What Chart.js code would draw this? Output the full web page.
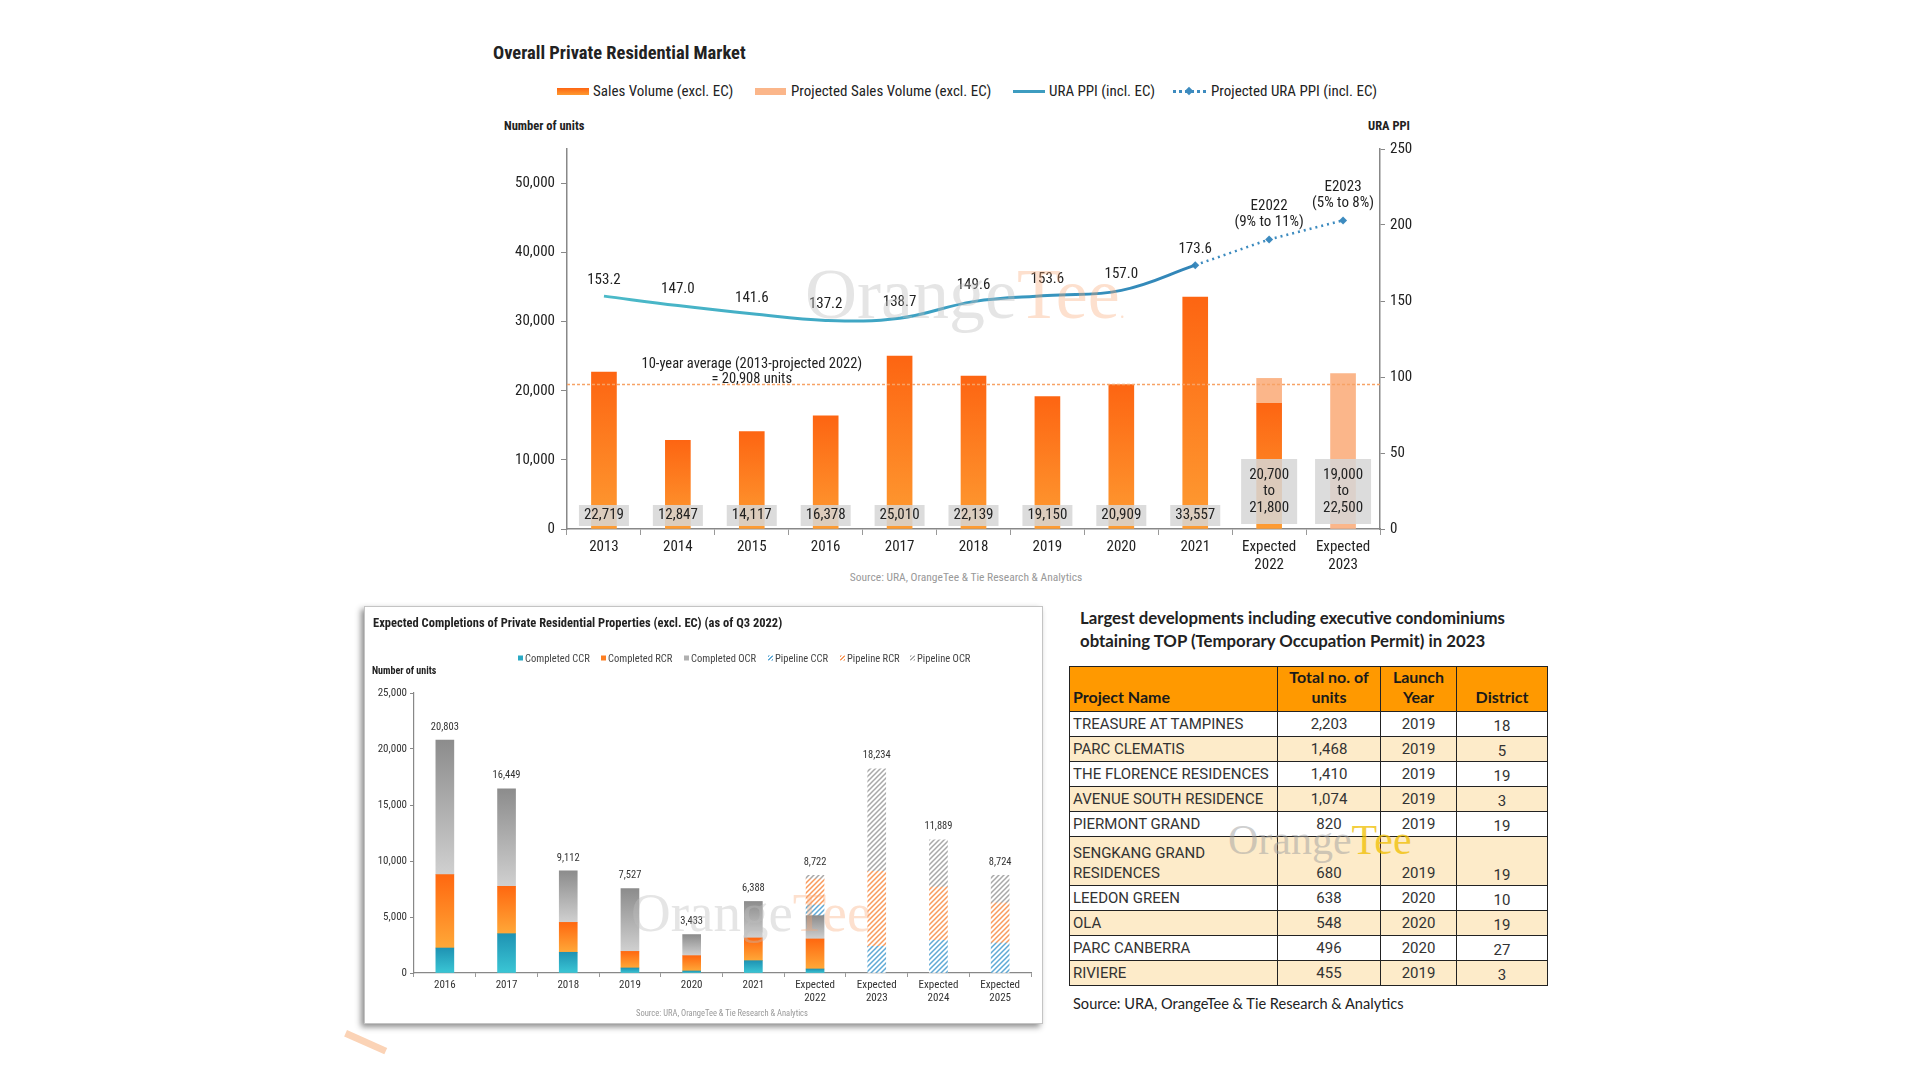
<!DOCTYPE html>
<html>
<head>
<meta charset="utf-8">
<script src="https://cdn.jsdelivr.net/npm/chart.js@4.4.1/dist/chart.umd.min.js"></script>
<style>
  body { margin: 0; width: 1920px; height: 1080px; background: #fff; position: relative; overflow: hidden;
         font-family: 'Liberation Sans Narrow', 'Roboto Condensed', Roboto, sans-serif; color: #222; }
  .abs { position: absolute; white-space: nowrap; }
  .mid { transform: translateY(-50%); }
  .legend-text { font-size: 15px; color: #222; }
  .small-legend { font-size: 10.5px; color: #444; }
  .small-legend i { display: inline-block; width: 5px; height: 5px; margin-right: 2px; vertical-align: 1px; }
  .wm { font-family: 'Liberation Serif', 'DejaVu Serif', serif; line-height: 1; pointer-events: none; z-index: 5; }
  #panel { position: absolute; left: 364px; top: 606px; width: 677px; height: 416px; background: #fff;
           border: 1px solid #c4c4c4; box-shadow: -3px 3px 6px rgba(0,0,0,0.45); }
  canvas { position: absolute; }
  table { position: absolute; left: 1069px; top: 666px; border-collapse: collapse; table-layout: fixed;
          font-family: Roboto, sans-serif; font-size: 15px; color: #333; }
  th, td { border: 1.5px solid #222; padding: 0 3px; overflow: hidden; }
  th { background: #ff9900; font-family: Lato, sans-serif; font-weight: bold; font-size: 16px; color: #1a1a1a;
       vertical-align: bottom; line-height: 20px; padding-bottom: 4px; height: 40px; }
  td { vertical-align: bottom; line-height: 20px; padding-bottom: 2px; white-space: pre-line; }
  tr.alt td { background: #fdebc9; }
  td.c { text-align: center; }
</style>
</head>
<body>

<!-- top chart texts -->
<div class="abs mid" style="left:493px;top:53px;font-size:18.5px;font-weight:bold;">Overall Private Residential Market</div>

<div class="abs" style="left:557px;top:88px;width:32px;height:7px;background:linear-gradient(#fd6512,#fe9a30);"></div>
<div class="abs mid legend-text" style="left:593px;top:91px;">Sales Volume (excl. EC)</div>
<div class="abs" style="left:755px;top:88px;width:31px;height:7px;background:#fbb68a;"></div>
<div class="abs mid legend-text" style="left:791px;top:91px;">Projected Sales Volume (excl. EC)</div>
<div class="abs" style="left:1013px;top:90px;width:32px;height:3px;background:#3d9cc0;"></div>
<div class="abs mid legend-text" style="left:1049px;top:91px;">URA PPI (incl. EC)</div>
<div class="abs" style="left:1173px;top:90px;width:33px;height:0;border-top:3px dotted #3d8bbf;"></div>
<div class="abs" style="left:1186px;top:88px;width:6px;height:6px;background:#3d8bbf;transform:rotate(45deg);"></div>
<div class="abs mid legend-text" style="left:1211px;top:91px;">Projected URA PPI (incl. EC)</div>

<div class="abs mid" style="left:504px;top:125px;font-size:12.5px;font-weight:bold;">Number of units</div>
<div class="abs mid" style="left:1368px;top:125px;font-size:12.5px;font-weight:bold;">URA PPI</div>
<div class="abs mid" style="left:836px;top:577px;width:260px;text-align:center;font-size:11.5px;color:#999;">Source: URA, OrangeTee &amp; Tie Research &amp; Analytics</div>

<canvas id="salesChart" width="1010" height="500" style="left:440px;top:101px;"></canvas>

<div class="abs wm" style="left:805px;top:258px;font-size:72px;"><span style="color:rgba(190,190,190,0.4)">Orange</span><span style="color:rgba(250,165,115,0.35)">Tee</span><span style="color:rgba(250,165,115,0.35);font-size:20px;">.</span></div>

<!-- bottom left panel -->
<div id="panel"></div>
<div class="abs mid" style="left:373px;top:622px;font-size:12.5px;font-weight:bold;z-index:2;">Expected Completions of Private Residential Properties (excl. EC) (as of Q3 2022)</div>
<div class="abs mid small-legend" style="left:518px;top:658px;z-index:2;"><i style="background:#2aa9c4"></i>Completed CCR</div>
<div class="abs mid small-legend" style="left:601px;top:658px;z-index:2;"><i style="background:#fd7f22"></i>Completed RCR</div>
<div class="abs mid small-legend" style="left:684px;top:658px;z-index:2;"><i style="background:#b0b0b0"></i>Completed OCR</div>
<div class="abs mid small-legend" style="left:768px;top:658px;z-index:2;"><i style="background:repeating-linear-gradient(-45deg,#5ea9d6 0 1.5px,#fff 1.5px 3px)"></i>Pipeline CCR</div>
<div class="abs mid small-legend" style="left:840px;top:658px;z-index:2;"><i style="background:repeating-linear-gradient(-45deg,#f99a5c 0 1.5px,#fff 1.5px 3px)"></i>Pipeline RCR</div>
<div class="abs mid small-legend" style="left:910px;top:658px;z-index:2;"><i style="background:repeating-linear-gradient(-45deg,#a8a8a8 0 1.5px,#fff 1.5px 3px)"></i>Pipeline OCR</div>
<div class="abs mid" style="left:372px;top:670px;font-size:10px;font-weight:bold;z-index:2;">Number of units</div>
<div class="abs mid" style="left:622px;top:1013px;width:200px;text-align:center;font-size:8.5px;color:#999;z-index:2;">Source: URA, OrangeTee &amp; Tie Research &amp; Analytics</div>

<canvas id="completionChart" width="679" height="330" style="left:364px;top:680px;z-index:3;"></canvas>

<div class="abs wm" style="left:631px;top:885px;font-size:55px;"><span style="color:rgba(190,190,190,0.4)">Orange</span><span style="color:rgba(250,165,115,0.35)">Tee</span></div>

<div class="abs" style="left:347px;top:1030px;width:44px;height:7px;background:#fbd3b6;transform:rotate(24deg);transform-origin:left top;"></div>

<!-- table -->
<div class="abs mid" style="left:1080px;top:617px;font-family:Lato,sans-serif;font-size:16.8px;font-weight:bold;">Largest developments including executive condominiums</div>
<div class="abs mid" style="left:1080px;top:640px;font-family:Lato,sans-serif;font-size:16.8px;font-weight:bold;">obtaining TOP (Temporary Occupation Permit) in 2023</div>
<table id="topTable">
  <colgroup><col style="width:208px"><col style="width:103px"><col style="width:76px"><col style="width:91px"></colgroup>
  <thead><tr>
    <th style="text-align:left;">Project Name</th><th>Total no. of<br>units</th><th>Launch<br>Year</th><th>District</th>
  </tr></thead>
  <tbody></tbody>
</table>
<div class="abs mid" style="left:1073px;top:1003px;font-family:Lato,sans-serif;font-size:14.6px;">Source: URA, OrangeTee &amp; Tie Research &amp; Analytics</div>
<div class="abs wm" style="left:1228px;top:819px;font-size:42px;"><span style="color:rgba(160,160,160,0.5)">Orange</span><span style="color:rgba(240,190,0,0.75)">Tee</span></div>

<script>
// ---- top chart data ----
const salesYears = ['2013', '2014', '2015', '2016', '2017', '2018', '2019', '2020', '2021', ['Expected', '2022'], ['Expected', '2023']];
const salesVolume = [22719, 12847, 14117, 16378, 25010, 22139, 19150, 20909, 33557, 18200, null];
const projectedSales = [null, null, null, null, null, null, null, null, null, 3600, 22500];
const salesLabels = ['22,719', '12,847', '14,117', '16,378', '25,010', '22,139', '19,150', '20,909', '33,557',
  ['20,700', 'to', '21,800'], ['19,000', 'to', '22,500']];
const unitTicks = [0, 10000, 20000, 30000, 40000, 50000];
const uraPPI = [153.2, 147.0, 141.6, 137.2, 138.7, 149.6, 153.6, 157.0, 173.6, null, null];
const projectedPPI = [null, null, null, null, null, null, null, null, 173.6, 190.5, 203.0];
const ppiNotes = [null, null, null, null, null, null, null, null, null, ['E2022', '(9% to 11%)'], ['E2023', '(5% to 8%)']];
const tenYearAverage = 20908;
const averageNote = ['10-year average (2013-projected 2022)', '= 20,908 units'];

// ---- bottom chart data ----
const completionYears = ['2016', '2017', '2018', '2019', '2020', '2021',
  ['Expected', '2022'], ['Expected', '2023'], ['Expected', '2024'], ['Expected', '2025']];
const completedCCR = [2230, 3510, 1850, 450, 180, 1100, 360, null, null, null];
const completedRCR = [6550, 4230, 2670, 1480, 1370, 2030, 2680, null, null, null];
const completedOCR = [12023, 8709, 4592, 5597, 1883, 3258, 2080, null, null, null];
const pipelineCCR = [null, null, null, null, null, null, 950, 2380, 2920, 2680];
const pipelineRCR = [null, null, null, null, null, null, 2320, 6700, 4760, 3570];
const pipelineOCR = [null, null, null, null, null, null, 332, 9154, 4209, 2474];
const completionTotals = [20803, 16449, 9112, 7527, 3433, 6388, 8722, 18234, 11889, 8724];

// ---- table data ----
const projectNames = ['TREASURE AT TAMPINES', 'PARC CLEMATIS', 'THE FLORENCE RESIDENCES', 'AVENUE SOUTH RESIDENCE',
  'PIERMONT GRAND', 'SENGKANG GRAND\nRESIDENCES', 'LEEDON GREEN', 'OLA', 'PARC CANBERRA', 'RIVIERE'];
const totalUnits = ['2,203', '1,468', '1,410', '1,074', '820', '680', '638', '548', '496', '455'];
const launchYears = ['2019', '2019', '2019', '2019', '2019', '2019', '2020', '2020', '2020', '2019'];
const districts = ['18', '5', '19', '3', '19', '19', '10', '19', '27', '3'];

const FONT = "'Liberation Sans Narrow', 'Roboto Condensed', Roboto, sans-serif";
Chart.defaults.font.family = FONT;
Chart.defaults.color = '#222';

// build table
const tbody = document.querySelector('#topTable tbody');
projectNames.forEach((name, i) => {
  const tr = document.createElement('tr');
  if (i % 2 === 1) tr.className = 'alt';
  const h = name.includes('\n') ? 48 : 24;
  tr.innerHTML = `<td style="height:${h - 2}px">${name}</td><td class="c">${totalUnits[i]}</td>` +
    `<td class="c">${launchYears[i]}</td><td class="c" style="padding-bottom:0">${districts[i]}</td>`;
  tbody.appendChild(tr);
});

// gradient for each sales bar
function barGradient(ctx, values, top, bottom) {
  const chart = ctx.chart;
  if (!chart.chartArea) return bottom;
  const v = values[ctx.dataIndex];
  if (v == null) return 'transparent';
  const y = chart.scales.y;
  const g = chart.ctx.createLinearGradient(0, y.getPixelForValue(v), 0, y.getPixelForValue(0) + 0.01);
  g.addColorStop(0, top);
  g.addColorStop(1, bottom);
  return g;
}

const salesPlugin = {
  id: 'salesLabels',
  afterDatasetsDraw(chart) {
    const { ctx, chartArea, scales } = chart;
    const x = scales.x, y = scales.y, y1 = scales.y1;
    ctx.save();
    // 10-year average line
    const ay = y.getPixelForValue(tenYearAverage);
    ctx.strokeStyle = '#f7a266';
    ctx.lineWidth = 1.6;
    ctx.setLineDash([3, 2]);
    ctx.beginPath();
    ctx.moveTo(chartArea.left, ay);
    ctx.lineTo(chartArea.right, ay);
    ctx.stroke();
    ctx.setLineDash([]);

    ctx.font = `14.5px ${FONT}`;
    ctx.fillStyle = '#222';
    ctx.textAlign = 'center';
    ctx.textBaseline = 'middle';
    const ax = x.getPixelForValue(2);
    ctx.fillText(averageNote[0], ax, ay - 20);
    ctx.fillText(averageNote[1], ax, ay - 5);

    // PPI values
    ctx.font = `15px ${FONT}`;
    uraPPI.forEach((v, i) => {
      if (v == null) return;
      ctx.fillText(v.toFixed(1), x.getPixelForValue(i), y1.getPixelForValue(v) - 16);
    });
    ppiNotes.forEach((n, i) => {
      if (!n) return;
      const px = x.getPixelForValue(i), py = y1.getPixelForValue(projectedPPI[i]);
      ctx.fillText(n[0], px, py - 33);
      ctx.fillText(n[1], px, py - 17);
    });

    // value boxes
    salesLabels.forEach((lab, i) => {
      const lines = Array.isArray(lab) ? lab : [lab];
      const multi = lines.length > 1;
      const px = x.getPixelForValue(i);
      const w = multi ? 56 : 50, h = multi ? 65 : 21;
      const bottom = y.getPixelForValue(0) - (multi ? 5 : 3);
      ctx.fillStyle = 'rgba(214,214,214,0.85)';
      ctx.fillRect(px - w / 2, bottom - h, w, h);
      ctx.fillStyle = '#222';
      const cy = bottom - h / 2;
      lines.forEach((t, k) => ctx.fillText(t, px, cy + (k - (lines.length - 1) / 2) * 16.5));
    });
    ctx.restore();
  }
};

new Chart(document.getElementById('salesChart'), {
  type: 'bar',
  data: {
    labels: salesYears,
    datasets: [
      {
        type: 'line', label: 'URA PPI (incl. EC)', data: uraPPI, yAxisID: 'y1', order: 0,
        borderWidth: 3, tension: 0.4, pointRadius: 0, fill: false,
        borderColor: ctx => {
          const a = ctx.chart.chartArea;
          if (!a) return '#3a9cc0';
          const g = ctx.chart.ctx.createLinearGradient(a.left, 0, a.right, 0);
          g.addColorStop(0, '#4dbdc9');
          g.addColorStop(0.5, '#3a9dc2');
          g.addColorStop(1, '#2b6fae');
          return g;
        }
      },
      {
        type: 'line', label: 'Projected URA PPI (incl. EC)', data: projectedPPI, yAxisID: 'y1', order: 0,
        borderColor: '#3d8bbf', borderWidth: 2.5, borderDash: [2, 4], tension: 0,
        pointStyle: 'rectRot', pointRadius: 4, pointBackgroundColor: '#3d8bbf', pointBorderWidth: 0, fill: false
      },
      {
        label: 'Sales Volume (excl. EC)', data: salesVolume, yAxisID: 'y', order: 1, barThickness: 25,
        backgroundColor: ctx => barGradient(ctx, salesVolume, '#fd6512', '#fe9c32')
      },
      {
        label: 'Projected Sales Volume (excl. EC)', data: projectedSales, yAxisID: 'y', order: 1, barThickness: 25,
        backgroundColor: '#fbb68a'
      }
    ]
  },
  options: {
    responsive: false,
    animation: false,
    layout: { padding: { top: 48, left: 0, right: 0, bottom: 0 } },
    plugins: { legend: { display: false }, tooltip: { enabled: false } },
    scales: {
      x: {
        stacked: true,
        grid: { display: true, drawOnChartArea: false, drawTicks: true, tickLength: 6, color: '#999', offset: true },
        border: { display: true, color: '#888', width: 1.5 },
        ticks: { font: { size: 15 }, color: '#222', padding: 3, maxRotation: 0, autoSkip: false },
        afterFit: s => { s.height = 72; }
      },
      y: {
        stacked: true, position: 'left', min: 0, max: 55000,
        ticks: { font: { size: 15 }, color: '#222', padding: 6 },
        afterBuildTicks: s => { s.ticks = unitTicks.map(v => ({ value: v })); },
        grid: { display: true, drawOnChartArea: false, drawTicks: true, tickLength: 6, color: '#888' },
        border: { display: true, color: '#888', width: 1.5 },
        afterFit: s => { s.width = 127; }
      },
      y1: {
        stacked: false, position: 'right', min: 0, max: 250,
        ticks: { stepSize: 50, font: { size: 15 }, color: '#222', padding: 5 },
        grid: { display: true, drawOnChartArea: false, drawTicks: true, tickLength: 5, color: '#888' },
        border: { display: true, color: '#888', width: 1.5 },
        afterFit: s => { s.width = 70; }
      }
    }
  },
  plugins: [salesPlugin]
});

// ---- bottom chart ----
function hatch(color) {
  const c = document.createElement('canvas');
  c.width = 5; c.height = 5;
  const g = c.getContext('2d');
  g.fillStyle = '#fff';
  g.fillRect(0, 0, 5, 5);
  g.strokeStyle = color;
  g.lineWidth = 1.5;
  g.beginPath();
  g.moveTo(-1, 6); g.lineTo(6, -1);
  g.moveTo(-1, 1); g.lineTo(1, -1);
  g.moveTo(4, 6); g.lineTo(6, 4);
  g.stroke();
  return g.createPattern(c, 'repeat');
}

const completionSeries = [completedCCR, completedRCR, completedOCR, pipelineCCR, pipelineRCR, pipelineOCR];

function segmentGradient(ctx, dsIndex, top, bottom) {
  const chart = ctx.chart;
  if (!chart.chartArea) return bottom;
  const i = ctx.dataIndex;
  const v = completionSeries[dsIndex][i];
  if (v == null) return bottom;
  let base = 0;
  for (let k = 0; k < dsIndex; k++) base += completionSeries[k][i] || 0;
  const y = chart.scales.y;
  const g = chart.ctx.createLinearGradient(0, y.getPixelForValue(base + v), 0, y.getPixelForValue(base) + 0.01);
  g.addColorStop(0, top);
  g.addColorStop(1, bottom);
  return g;
}

const totalsPlugin = {
  id: 'totals',
  afterDatasetsDraw(chart) {
    const { ctx, scales } = chart;
    ctx.save();
    ctx.font = `10.5px ${FONT}`;
    ctx.fillStyle = '#333';
    ctx.textAlign = 'center';
    ctx.textBaseline = 'middle';
    completionTotals.forEach((t, i) => {
      ctx.fillText(t.toLocaleString('en-US'), scales.x.getPixelForValue(i), scales.y.getPixelForValue(t) - 13);
    });
    ctx.restore();
  }
};

new Chart(document.getElementById('completionChart'), {
  type: 'bar',
  data: {
    labels: completionYears,
    datasets: [
      { label: 'Completed CCR', data: completedCCR, backgroundColor: ctx => segmentGradient(ctx, 0, '#1f93b3', '#3ac6d5') },
      { label: 'Completed RCR', data: completedRCR, backgroundColor: ctx => segmentGradient(ctx, 1, '#ff6810', '#ffa838') },
      { label: 'Completed OCR', data: completedOCR, backgroundColor: ctx => segmentGradient(ctx, 2, '#8c8c8c', '#d0d0d0') },
      { label: 'Pipeline CCR', data: pipelineCCR, backgroundColor: hatch('#5ea9d6') },
      { label: 'Pipeline RCR', data: pipelineRCR, backgroundColor: hatch('#f99a5c') },
      { label: 'Pipeline OCR', data: pipelineOCR, backgroundColor: hatch('#a8a8a8') }
    ].map(d => Object.assign(d, { barThickness: 18 }))
  },
  options: {
    responsive: false,
    animation: false,
    layout: { padding: { top: 13, right: 12, left: 0, bottom: 0 } },
    plugins: { legend: { display: false }, tooltip: { enabled: false } },
    scales: {
      x: {
        stacked: true,
        grid: { display: true, drawOnChartArea: false, drawTicks: true, tickLength: 4, color: '#999', offset: true },
        border: { display: true, color: '#888', width: 1.2 },
        ticks: { font: { size: 11, lineHeight: 1.25 }, color: '#333', padding: 1, maxRotation: 0, autoSkip: false },
        afterFit: s => { s.height = 37; }
      },
      y: {
        stacked: true, min: 0, max: 25000,
        ticks: { stepSize: 5000, font: { size: 11 }, color: '#333', padding: 3 },
        grid: { display: true, drawOnChartArea: false, drawTicks: true, tickLength: 4, color: '#888' },
        border: { display: true, color: '#888', width: 1.2 },
        afterFit: s => { s.width = 50; }
      }
    }
  },
  plugins: [totalsPlugin]
});
</script>
</body>
</html>
